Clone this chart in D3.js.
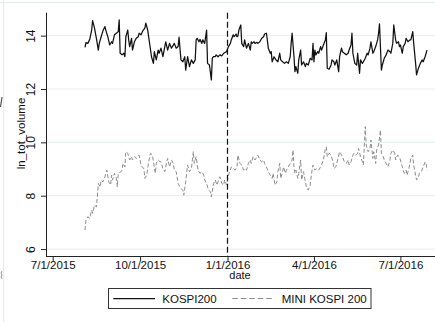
<!DOCTYPE html>
<html><head><meta charset="utf-8">
<script src="https://cdn.jsdelivr.net/npm/d3@7"></script>
<style>
html,body{margin:0;padding:0;background:#fff;}
svg{display:block;font-family:"Liberation Sans",Arial,Helvetica,sans-serif;}
</style>
</head><body>
<svg id="chart" width="435" height="322"></svg>
<script>
// ---------------- DATA ----------------
const kospiDates = [
"2015-08-04","2015-08-05","2015-08-07","2015-08-09","2015-08-11","2015-08-12","2015-08-14","2015-08-16","2015-08-18","2015-08-19",
"2015-08-21","2015-08-23","2015-08-25","2015-08-26","2015-08-28","2015-08-30","2015-09-01","2015-09-02","2015-09-04","2015-09-06",
"2015-09-08","2015-09-09","2015-09-10","2015-09-12","2015-09-14","2015-09-15","2015-09-16","2015-09-18","2015-09-19","2015-09-20",
"2015-09-22","2015-09-23","2015-09-25","2015-09-27","2015-09-29","2015-09-30","2015-10-02","2015-10-04","2015-10-06","2015-10-07",
"2015-10-09","2015-10-11","2015-10-13","2015-10-15","2015-10-16","2015-10-18","2015-10-20","2015-10-21","2015-10-23","2015-10-25",
"2015-10-27","2015-10-28","2015-10-30","2015-11-01","2015-11-03","2015-11-04","2015-11-06","2015-11-08","2015-11-10","2015-11-11",
"2015-11-13","2015-11-15","2015-11-17","2015-11-18","2015-11-20","2015-11-22","2015-11-24","2015-11-26","2015-11-28","2015-11-29",
"2015-11-30","2015-12-02","2015-12-03","2015-12-05","2015-12-06","2015-12-08","2015-12-10","2015-12-11","2015-12-13","2015-12-15",
"2015-12-16","2015-12-17","2015-12-19","2015-12-20","2015-12-22","2015-12-24","2015-12-26","2015-12-28","2015-12-29","2015-12-31",
"2016-01-02","2016-01-04","2016-01-05","2016-01-07","2016-01-08","2016-01-10","2016-01-11","2016-01-12","2016-01-13","2016-01-15",
"2016-01-16","2016-01-18","2016-01-19","2016-01-21","2016-01-23","2016-01-25","2016-01-26","2016-01-27","2016-01-29","2016-01-30",
"2016-02-01","2016-02-02","2016-02-04","2016-02-06","2016-02-08","2016-02-09","2016-02-11","2016-02-13","2016-02-15","2016-02-16",
"2016-02-17","2016-02-19","2016-02-21","2016-02-23","2016-02-25","2016-02-26","2016-02-28","2016-03-01","2016-03-03","2016-03-05",
"2016-03-07","2016-03-08","2016-03-09","2016-03-11","2016-03-12","2016-03-13","2016-03-15","2016-03-16","2016-03-18","2016-03-19",
"2016-03-21","2016-03-23","2016-03-24","2016-03-26","2016-03-28","2016-03-30","2016-03-31","2016-04-01","2016-04-02","2016-04-03",
"2016-04-05","2016-04-06","2016-04-08","2016-04-09","2016-04-11","2016-04-13","2016-04-14","2016-04-15","2016-04-17","2016-04-19",
"2016-04-20","2016-04-22","2016-04-23","2016-04-25","2016-04-27","2016-04-28","2016-04-30","2016-05-01","2016-05-03","2016-05-05",
"2016-05-07","2016-05-08","2016-05-10","2016-05-11","2016-05-12","2016-05-14","2016-05-16","2016-05-17","2016-05-19","2016-05-20",
"2016-05-22","2016-05-23","2016-05-25","2016-05-27","2016-05-28","2016-05-30","2016-05-31","2016-06-02","2016-06-03","2016-06-05",
"2016-06-07","2016-06-08","2016-06-09","2016-06-11","2016-06-12","2016-06-14","2016-06-16","2016-06-18","2016-06-20","2016-06-21",
"2016-06-23","2016-06-24","2016-06-26","2016-06-27","2016-06-29","2016-06-30","2016-07-01","2016-07-03","2016-07-04","2016-07-06",
"2016-07-07","2016-07-09","2016-07-11","2016-07-12","2016-07-14","2016-07-15","2016-07-17","2016-07-18","2016-07-20","2016-07-22",
"2016-07-24","2016-07-25","2016-07-27","2016-07-29"
];
const kospiValues = [
13.56,13.74,13.71,13.86,14.21,14.56,14.28,13.90,13.46,13.71,
13.96,14.19,14.34,14.19,13.96,13.65,13.77,13.71,14.03,14.09,
14.15,14.59,13.34,13.28,13.34,13.21,13.96,14.21,13.84,13.59,
13.90,13.46,13.77,13.90,13.96,14.09,14.03,14.19,14.28,14.47,
14.21,13.71,13.21,12.96,13.40,13.09,13.46,13.34,13.53,13.21,
13.59,13.77,13.46,13.71,13.53,13.59,13.71,13.53,13.59,13.94,
13.09,13.02,13.21,12.71,13.21,12.84,13.09,12.96,13.09,13.84,
13.90,13.77,13.86,13.71,13.84,13.71,14.21,12.96,12.90,12.34,
13.15,13.21,13.21,13.28,13.21,13.28,13.24,13.34,13.36,13.40,
13.59,13.71,13.84,14.03,13.96,14.06,13.96,13.99,14.21,14.40,
13.71,13.59,13.84,13.53,13.71,13.46,13.77,13.71,13.77,13.71,
13.75,13.71,13.77,13.90,13.96,14.06,14.09,13.53,13.34,13.40,
13.02,13.21,13.09,13.02,13.34,13.09,13.02,12.96,13.02,12.96,
13.21,13.71,14.09,13.21,12.65,12.84,12.59,13.09,13.46,12.90,
13.02,12.84,12.96,12.90,13.15,13.09,13.71,13.02,13.46,13.28,
13.40,13.34,13.59,13.46,13.65,13.84,14.11,12.78,12.74,12.90,
13.09,13.02,12.90,13.09,12.65,13.21,13.53,13.40,13.34,13.28,
13.34,13.46,13.65,14.09,13.34,12.96,12.90,13.34,12.59,13.09,
12.96,13.02,13.15,13.34,13.28,13.53,13.77,13.34,13.40,13.59,
13.84,14.09,14.44,12.71,12.90,13.15,13.28,13.46,13.40,13.34,
13.71,14.40,13.84,13.71,13.77,13.59,13.65,13.34,13.59,13.71,
13.90,13.77,13.84,13.84,14.15,13.71,12.96,12.53,12.78,12.96,
13.09,13.02,13.21,13.46
];
const miniDates = [
"2015-08-04","2015-08-05","2015-08-07","2015-08-09","2015-08-11","2015-08-12","2015-08-14","2015-08-16","2015-08-17","2015-08-18",
"2015-08-20","2015-08-21","2015-08-23","2015-08-25","2015-08-26","2015-08-27","2015-08-29","2015-08-31","2015-09-01","2015-09-02",
"2015-09-04","2015-09-06","2015-09-07","2015-09-08","2015-09-11","2015-09-12","2015-09-13","2015-09-15","2015-09-16","2015-09-18",
"2015-09-20","2015-09-22","2015-09-23","2015-09-25","2015-09-27","2015-09-29","2015-09-30","2015-10-02","2015-10-03","2015-10-05",
"2015-10-06","2015-10-08","2015-10-10","2015-10-12","2015-10-14","2015-10-15","2015-10-17","2015-10-18","2015-10-20","2015-10-22",
"2015-10-23","2015-10-25","2015-10-27","2015-10-29","2015-10-30","2015-11-01","2015-11-03","2015-11-05","2015-11-06","2015-11-08",
"2015-11-10","2015-11-12","2015-11-13","2015-11-15","2015-11-16","2015-11-18","2015-11-19","2015-11-20","2015-11-22","2015-11-24",
"2015-11-26","2015-11-27","2015-11-29",
"2015-12-01","2015-12-03","2015-12-05","2015-12-07","2015-12-08","2015-12-10","2015-12-12",
"2015-12-14","2015-12-15","2015-12-17","2015-12-19","2015-12-21","2015-12-22","2015-12-24","2015-12-26","2015-12-28","2015-12-29",
"2015-12-31","2016-01-02","2016-01-04","2016-01-05","2016-01-07","2016-01-09","2016-01-11","2016-01-12","2016-01-14","2016-01-16",
"2016-01-18","2016-01-19","2016-01-21","2016-01-23","2016-01-25","2016-01-26","2016-01-28","2016-01-30","2016-02-01","2016-02-02",
"2016-02-04","2016-02-06","2016-02-08","2016-02-09","2016-02-11","2016-02-13","2016-02-15","2016-02-17","2016-02-18","2016-02-20",
"2016-02-22","2016-02-23","2016-02-25","2016-02-26","2016-02-28","2016-02-29","2016-03-02","2016-03-03","2016-03-05","2016-03-07",
"2016-03-09","2016-03-10","2016-03-11","2016-03-12","2016-03-13","2016-03-15","2016-03-16","2016-03-18","2016-03-19","2016-03-21",
"2016-03-23","2016-03-24","2016-03-26","2016-03-28","2016-03-30","2016-03-31","2016-04-02","2016-04-04","2016-04-06","2016-04-08",
"2016-04-09","2016-04-11","2016-04-13","2016-04-14","2016-04-15","2016-04-17","2016-04-19","2016-04-21","2016-04-22","2016-04-24",
"2016-04-26","2016-04-28","2016-04-29","2016-05-01","2016-05-03","2016-05-05","2016-05-07","2016-05-08","2016-05-10","2016-05-12",
"2016-05-13","2016-05-15","2016-05-17","2016-05-18","2016-05-20","2016-05-22","2016-05-23","2016-05-25","2016-05-26","2016-05-28",
"2016-05-30","2016-05-31","2016-06-02","2016-06-03","2016-06-05","2016-06-06","2016-06-08","2016-06-10","2016-06-11","2016-06-13",
"2016-06-14","2016-06-16","2016-06-18","2016-06-20","2016-06-21","2016-06-23","2016-06-25","2016-06-26","2016-06-28","2016-06-30",
"2016-07-02","2016-07-03","2016-07-05","2016-07-07","2016-07-08","2016-07-10","2016-07-12","2016-07-14","2016-07-15","2016-07-17",
"2016-07-18","2016-07-20","2016-07-21","2016-07-23","2016-07-25","2016-07-27","2016-07-28","2016-07-29"
];
const miniValues = [
6.71,7.08,7.21,7.15,7.46,7.34,7.65,7.58,7.96,8.46,
8.33,8.59,8.52,8.71,8.84,8.96,8.52,8.40,8.77,8.59,
8.84,8.65,8.33,8.84,8.90,8.96,9.21,9.08,9.65,9.59,
9.34,9.46,9.34,9.46,9.40,9.46,9.52,9.15,9.08,9.02,
8.65,8.77,9.27,9.59,9.52,9.27,8.84,9.21,9.34,9.27,
9.27,9.02,8.90,9.27,9.40,9.08,9.34,9.21,8.96,8.90,
8.46,8.33,8.27,8.21,8.02,8.52,8.84,9.15,8.90,9.02,
9.65,9.21,9.46,
8.96,8.84,8.90,8.77,8.59,8.46,8.21,8.15,7.96,8.40,
8.59,8.40,8.52,8.71,8.46,8.40,8.59,8.40,8.77,8.96,
9.08,9.02,8.96,9.08,9.52,9.21,9.15,8.96,9.02,8.96,
9.21,9.34,9.21,9.46,9.34,9.46,9.52,9.34,9.27,9.34,
9.21,9.08,8.90,8.77,8.65,8.84,8.40,8.52,8.90,9.21,
8.65,8.90,9.08,8.84,8.96,9.08,9.21,9.34,9.71,9.02,
8.84,8.96,8.65,8.84,9.34,8.59,8.90,8.52,8.33,8.21,
8.40,8.96,9.15,8.96,9.02,8.96,9.08,9.15,9.34,9.77,
9.83,9.46,9.59,9.52,9.27,9.02,9.08,9.34,9.65,9.59,
9.46,9.27,9.21,9.34,9.15,9.27,9.52,9.59,9.52,9.59,
9.77,9.46,9.27,9.15,10.59,9.90,9.65,9.77,10.09,9.40,
9.65,9.21,9.71,9.90,10.46,9.59,9.46,9.34,9.21,9.08,
9.34,9.59,9.71,9.59,9.34,9.52,9.46,9.21,9.08,8.84,
8.96,8.77,9.02,9.40,9.52,9.15,8.77,8.59,8.71,8.84,
8.90,9.08,9.27,9.21,8.96
];
const xTickDates = ["2015-07-01","2015-10-01","2016-01-01","2016-04-01","2016-07-01"];
const yTicks = [6, 8, 10, 12, 14];
const eventDate = "2016-01-01";
const seriesNames = ["KOSPI200", "MINI KOSPI 200"];
const xTitle = "date";
const yTitle = "ln_tot_volume";

// ---------------- LAYOUT ----------------
const parse = d3.utcParse("%Y-%m-%d");
const svg = d3.select("#chart");
const L = 46, R = 435, T = 12.7, B = 256;

// place first and last labelled tick, then extend to the plot edges
const base = d3.scaleUtc()
  .domain([parse(xTickDates[0]), parse(xTickDates[xTickDates.length - 1])])
  .range([52.7, 400.4]);
const x = d3.scaleUtc().domain([base.invert(L), base.invert(R)]).range([L, R]);
const y = d3.scaleLinear().domain([5.74, 14.86]).range([B, T]);

// outer frame remnants (cropped graph region)
svg.append("line").attr("x1", 0).attr("x2", 435).attr("y1", 2.5).attr("y2", 2.5)
  .attr("stroke", "#e4ecee").attr("stroke-width", 1);
svg.append("line").attr("x1", 3.5).attr("x2", 3.5).attr("y1", 0).attr("y2", 322)
  .attr("stroke", "#e4ecee").attr("stroke-width", 1);
svg.append("line").attr("x1", 0.5).attr("x2", 2).attr("y1", 107).attr("y2", 97)
  .attr("stroke", "#555").attr("stroke-width", 1.2);
svg.append("path").attr("d", "M2,271 Q0,273 2,275 Q0,277 2,279")
  .attr("fill", "none").attr("stroke", "#888").attr("stroke-width", 0.9);

// gridlines
svg.append("g").selectAll("line").data(yTicks).join("line")
  .attr("x1", L + 0.5).attr("x2", R)
  .attr("y1", d => y(d)).attr("y2", d => y(d))
  .attr("stroke", "#e6eef0").attr("stroke-width", 1);

// series
const lineGen = (dates, vals) => d3.line()
  .x((d, i) => x(parse(dates[i])))
  .y(d => y(d))(vals);

svg.append("path")
  .attr("d", lineGen(miniDates, miniValues))
  .attr("fill", "none").attr("stroke", "#8c8c8c").attr("stroke-width", 1)
  .attr("stroke-dasharray", "4,2.2");

svg.append("path")
  .attr("d", lineGen(kospiDates, kospiValues))
  .attr("fill", "none").attr("stroke", "#111").attr("stroke-width", 1.25)
  .attr("stroke-linejoin", "round");

// event line
svg.append("line")
  .attr("x1", x(parse(eventDate))).attr("x2", x(parse(eventDate)))
  .attr("y1", T).attr("y2", B)
  .attr("stroke", "#111").attr("stroke-width", 1.2)
  .attr("stroke-dasharray", "6,3");

// y axis
const yAxis = svg.append("g").attr("transform", `translate(${L},0)`)
  .call(d3.axisLeft(y).tickValues(yTicks).tickSize(5).tickSizeOuter(0).tickFormat(d3.format("d")));
yAxis.select(".domain").attr("d", `M0.5,${T}V${B}`).attr("stroke", "#222");
yAxis.selectAll(".tick line").attr("stroke", "#222");
yAxis.selectAll(".tick text")
  .attr("transform", "rotate(-90)")
  .attr("x", 0).attr("y", -11.5).attr("dy", 0)
  .attr("text-anchor", "middle")
  .attr("font-size", 12).attr("fill", "#111")
  .attr("font-family", "Liberation Sans, Arial, sans-serif");

// x axis
const xAxis = svg.append("g").attr("transform", `translate(0,${B})`)
  .call(d3.axisBottom(x).tickValues(xTickDates.map(parse)).tickSize(5).tickSizeOuter(0)
    .tickFormat(d3.utcFormat("%-m/%-d/%Y")));
xAxis.select(".domain").attr("d", `M${L},0.5H${R}`).attr("stroke", "#222");
xAxis.selectAll(".tick line").attr("stroke", "#222");
xAxis.selectAll(".tick text")
  .attr("y", 12.5).attr("dy", 0)
  .attr("font-size", 11.5).attr("fill", "#111")
  .attr("font-family", "Liberation Sans, Arial, sans-serif");

// titles
svg.append("text").attr("x", 240).attr("y", 279.3)
  .attr("text-anchor", "middle").attr("font-size", 11).attr("fill", "#111")
  .text(xTitle);
svg.append("text")
  .attr("transform", "translate(24.5,133.5) rotate(-90)")
  .attr("text-anchor", "middle").attr("font-size", 11.5).attr("fill", "#111")
  .text(yTitle);

// legend
const lg = svg.append("g");
lg.append("rect").attr("x", 108.5).attr("y", 288.5).attr("width", 262.5).attr("height", 20)
  .attr("fill", "#fff").attr("stroke", "#333").attr("stroke-width", 1);
lg.append("line").attr("x1", 113.3).attr("x2", 155).attr("y1", 298.5).attr("y2", 298.5)
  .attr("stroke", "#111").attr("stroke-width", 1.25);
lg.append("text").attr("x", 162.3).attr("y", 302.5).attr("font-size", 11.5).attr("fill", "#111")
  .text(seriesNames[0]);
lg.append("line").attr("x1", 232.3).attr("x2", 275).attr("y1", 298.5).attr("y2", 298.5)
  .attr("stroke", "#8c8c8c").attr("stroke-width", 1).attr("stroke-dasharray", "5.5,3");
lg.append("text").attr("x", 281.7).attr("y", 302.5).attr("font-size", 11.5).attr("fill", "#111")
  .text(seriesNames[1]);
</script>
</body></html>
